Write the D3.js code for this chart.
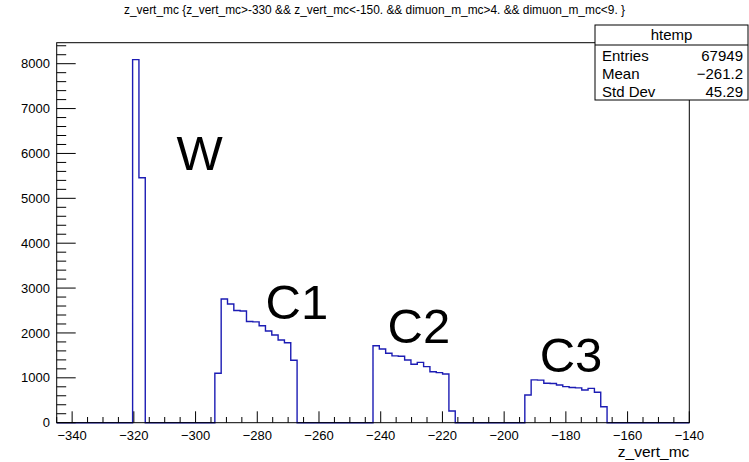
<!DOCTYPE html>
<html>
<head>
<meta charset="utf-8">
<script src="https://cdn.jsdelivr.net/npm/d3@7/dist/d3.min.js"></script>
<style>
  body { margin: 0; background: #fff; }
  svg { display: block; }
  text { font-family: "Liberation Sans", Arial, Helvetica, sans-serif; fill: #000; }
</style>
</head>
<body>
<svg id="chart" width="749" height="462"></svg>
<script>
// ---- histogram definition: 100 equal bins over the axis range ----
const histRange = [-345, -140];
const binContents = [
     0,    0,    0,    0,    0,    0,    0,    0,    0,    0,
     0,    0, 8090, 5460,    0,    0,    0,    0,    0,    0,
     0,    0,    0,    0,    0, 1101, 2757, 2645, 2500, 2490,
  2255, 2246, 2162, 2043, 1954, 1843, 1783, 1390,    0,    0,
     0,    0,    0,    0,    0,    0,    0,    0,    0,    0,
  1716, 1642, 1546, 1490, 1482, 1397, 1301, 1345, 1249, 1137,
  1115, 1085,  260,    0,    0,    0,    0,    0,    0,    0,
     0,    0,    0,    0,  617,  955,  949,  880,  874,  840,
   803,  783,  777,  729,  766,  677,  357,    0,    0,    0,
     0,    0,    0,    0,    0,    0,    0,    0,    0,    0
];

// ---- axis ticks ----
const xMajorTicks = [-340, -320, -300, -280, -260, -240, -220, -200, -180, -160, -140];
const yMajorTicks = [0, 1000, 2000, 3000, 4000, 5000, 6000, 7000, 8000];

// ---- texts ----
const titleText = "z_vert_mc {z_vert_mc>-330 && z_vert_mc<-150. && dimuon_m_mc>4. && dimuon_m_mc<9. }";
const xAxisTitle = "z_vert_mc";
const peakNames = ["W", "C1", "C2", "C3"];
const statsName = "htemp";
const statsKeys = ["Entries", "Mean", "Std Dev"];
const statsValues = ["67949", "\u2212261.2", "45.29"];

// ---- layout ----
const frame = { left: 56.7, right: 689.3, top: 42.7, bottom: 422.7 };
const yTop = 8468;
const peakLabelPos = [   // anchor in data coordinates (x value, count)
  [-306.2, 5631], [-277.3, 2311], [-237.8, 1776], [-188.5, 1130]
];
const histColor = "#1c1cb4";

const svg = d3.select("#chart");

const x = d3.scaleLinear().domain(histRange).range([frame.left, frame.right]);
const y = d3.scaleLinear().domain([0, yTop]).range([frame.bottom, frame.top]);

// title
svg.append("text")
  .attr("x", 374.5).attr("y", 14)
  .attr("text-anchor", "middle")
  .attr("font-size", 11.9)
  .text(titleText);

// histogram outline (step line)
const nBins = binContents.length;
const binWidth = (histRange[1] - histRange[0]) / nBins;
const pts = [[histRange[0], 0]];
binContents.forEach((c, i) => {
  const lo = histRange[0] + i * binWidth;
  pts.push([lo, c], [lo + binWidth, c]);
});
pts.push([histRange[1], 0]);
const line = d3.line().x(d => x(d[0])).y(d => y(d[1]));
svg.append("path")
  .attr("d", line(pts))
  .attr("fill", "none")
  .attr("stroke", histColor)
  .attr("stroke-width", 1.4);

// frame
const axisColor = "#000";
svg.append("rect")
  .attr("x", frame.left).attr("y", frame.top)
  .attr("width", frame.right - frame.left).attr("height", frame.bottom - frame.top)
  .attr("fill", "none").attr("stroke", axisColor).attr("stroke-width", 1);

// x axis ticks (inside the frame, upward)
const xMinor = d3.range(histRange[0], histRange[1] + 0.001, 5);
const xMajLen = 11.4, xMinLen = 5.7;
svg.append("g").selectAll("line").data(xMinor).join("line")
  .attr("x1", d => x(d)).attr("x2", d => x(d))
  .attr("y1", frame.bottom)
  .attr("y2", d => frame.bottom - (xMajorTicks.includes(d) ? xMajLen : xMinLen))
  .attr("stroke", axisColor).attr("stroke-width", 1);

svg.append("g").selectAll("text").data(xMajorTicks).join("text")
  .attr("x", d => x(d)).attr("y", 440)
  .attr("text-anchor", "middle")
  .attr("font-size", 13)
  .text(d => d3.format("")(d).replace("-", "\u2212"));

svg.append("text")
  .attr("x", frame.right).attr("y", 457)
  .attr("text-anchor", "end")
  .attr("font-size", 15.5)
  .text(xAxisTitle);

// y axis ticks (inside the frame, rightward)
const yMinor = d3.range(0, yTop, 200);
const yMajLen = 19, yMinLen = 9.5;
svg.append("g").selectAll("line").data(yMinor).join("line")
  .attr("x1", frame.left)
  .attr("x2", d => frame.left + (yMajorTicks.includes(d) ? yMajLen : yMinLen))
  .attr("y1", d => y(d)).attr("y2", d => y(d))
  .attr("stroke", axisColor).attr("stroke-width", 1);

svg.append("g").selectAll("text").data(yMajorTicks).join("text")
  .attr("x", 50).attr("y", d => y(d) + 4.6)
  .attr("text-anchor", "end")
  .attr("font-size", 13)
  .text(d => d);

// peak labels
svg.append("g").selectAll("text").data(peakNames).join("text")
  .attr("x", (d, i) => x(peakLabelPos[i][0]))
  .attr("y", (d, i) => y(peakLabelPos[i][1]))
  .attr("font-size", 49)
  .text(d => d);

// statistics box
const sb = { left: 595, top: 25, right: 748, header: 45, bottom: 100 };
const stats = svg.append("g");
stats.append("rect")
  .attr("x", sb.left).attr("y", sb.top)
  .attr("width", sb.right - sb.left).attr("height", sb.bottom - sb.top)
  .attr("fill", "#fff").attr("stroke", "#000").attr("stroke-width", 1);
stats.append("line")
  .attr("x1", sb.left).attr("x2", sb.right)
  .attr("y1", sb.header).attr("y2", sb.header)
  .attr("stroke", "#000").attr("stroke-width", 1);
stats.append("text")
  .attr("x", (sb.left + sb.right) / 2).attr("y", 40)
  .attr("text-anchor", "middle").attr("font-size", 15)
  .text(statsName);
stats.selectAll("text.k").data(statsKeys).join("text")
  .attr("class", "k")
  .attr("x", 602).attr("y", (d, i) => 61 + i * 18)
  .attr("font-size", 15)
  .text(d => d);
stats.selectAll("text.v").data(statsValues).join("text")
  .attr("class", "v")
  .attr("x", 743).attr("y", (d, i) => 61 + i * 18)
  .attr("text-anchor", "end")
  .attr("font-size", 15)
  .text(d => d);
</script>
</body>
</html>
